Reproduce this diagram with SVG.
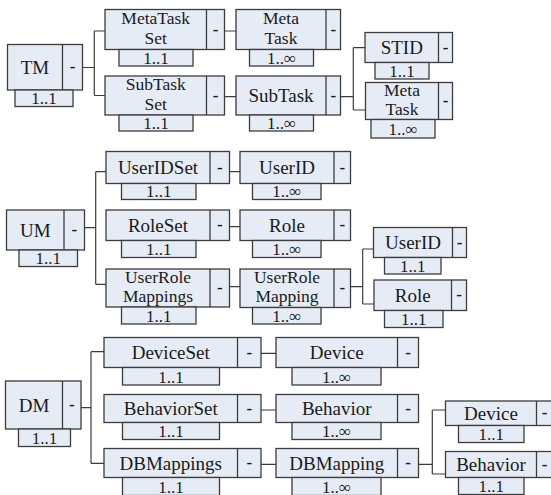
<svg xmlns="http://www.w3.org/2000/svg" width="551" height="495" viewBox="0 0 551 495">
<style>
.b{fill:#e6ecf6;stroke:#3c3c3c;stroke-width:1.3}
.d{stroke:#3c3c3c;stroke-width:1.3}
.c{fill:none;stroke:#3c3c3c;stroke-width:1.2}
.t{font-size:19px;text-anchor:middle;fill:#1a1a1a}
.t2{font-size:17.5px;text-anchor:middle;fill:#1a1a1a}
.n{font-size:17px;text-anchor:middle;fill:#1a1a1a}
.x{font-size:17px;font-weight:bold;text-anchor:middle;fill:#1a1a1a}
</style>
<rect width="551" height="495" fill="#ffffff"/>
<g id="connectors">
<path class="c" d="M82.5 67.5H94.3M94.3 31V95.5M94.3 31H105M94.3 95.5H105"/>
<path class="c" d="M224.5 31H236M224.5 96.7H236"/>
<path class="c" d="M340.5 96.7H353.3M353.3 47.7V110M353.3 47.7H365M353.3 110H365.5"/>
<path class="c" d="M84.5 227.7H95.7M95.7 171.7V284.3M95.7 171.7H106M95.7 284.3H106"/>
<path class="c" d="M229.5 171.7H240M229.5 226.7H240M229.5 286.7H240"/>
<path class="c" d="M350.5 286.7H362.7M362.7 249V304M362.7 249H373.5M362.7 304H374"/>
<path class="c" d="M81 407.7H91M91 351.7V463.3M91 351.7H104M91 463.3H104"/>
<path class="c" d="M261 353.3H276M261 410H276M261 464.3H276"/>
<path class="c" d="M418.5 464.3H432.3M432.3 410V474M432.3 410H445.5M432.3 474H445.5"/>
</g>
<g font-family="'Liberation Serif', 'Times New Roman', Times, serif">
<g id="TM">
<rect class="b" x="7.5" y="44.5" width="75" height="45.5"/><line class="d" x1="62.5" y1="44.5" x2="62.5" y2="90"/>
<rect class="b" x="15" y="90" width="58" height="16.5"/>
<text class="t" x="35" y="73.8">TM</text><text class="x" x="72.5" y="72">-</text><text class="n" x="44" y="104">1..1</text>
</g>
<g id="MetaTaskSet">
<rect class="b" x="105" y="9.5" width="119.5" height="40"/><line class="d" x1="206.5" y1="9.5" x2="206.5" y2="49.5"/>
<rect class="b" x="119" y="49.5" width="74" height="16.5"/>
<text class="t2" x="155.75" y="24.2">MetaTask<tspan x="155.75" dy="19.4">Set</tspan></text><text class="x" x="215.5" y="34.5">-</text><text class="n" x="156" y="63.5">1..1</text>
</g>
<g id="SubTaskSet">
<rect class="b" x="105" y="76" width="119.5" height="39"/><line class="d" x1="206.5" y1="76" x2="206.5" y2="115"/>
<rect class="b" x="119" y="115" width="74" height="16"/>
<text class="t2" x="155.75" y="90.2">SubTask<tspan x="155.75" dy="19.4">Set</tspan></text><text class="x" x="215.5" y="100.5">-</text><text class="n" x="156" y="129">1..1</text>
</g>
<g id="MetaTask">
<rect class="b" x="236" y="9.5" width="104.5" height="40"/><line class="d" x1="326" y1="9.5" x2="326" y2="49.5"/>
<rect class="b" x="249.5" y="49.5" width="64" height="16.5"/>
<text class="t2" x="281" y="24.2">Meta<tspan x="281" dy="19.4">Task</tspan></text><text class="x" x="333.25" y="34.5">-</text><text class="n" x="281.5" y="63.5">1..∞</text>
</g>
<g id="SubTask">
<rect class="b" x="236" y="76" width="104.5" height="39"/><line class="d" x1="326" y1="76" x2="326" y2="115"/>
<rect class="b" x="249.5" y="115" width="64" height="16"/>
<text class="t" x="281" y="102">SubTask</text><text class="x" x="333.25" y="100.5">-</text><text class="n" x="281.5" y="129">1..∞</text>
</g>
<g id="STID">
<rect class="b" x="365" y="32.5" width="87.5" height="30"/><line class="d" x1="438.5" y1="32.5" x2="438.5" y2="62.5"/>
<rect class="b" x="375" y="62.5" width="54" height="16.5"/>
<text class="t" x="401.75" y="54">STID</text><text class="x" x="445.5" y="52.5">-</text><text class="n" x="402" y="76.5">1..1</text>
</g>
<g id="MetaTask2">
<rect class="b" x="365.5" y="82.5" width="87" height="37"/><line class="d" x1="438.5" y1="82.5" x2="438.5" y2="119.5"/>
<rect class="b" x="371" y="119.5" width="64" height="18.5"/>
<text class="t2" x="402" y="95.6">Meta<tspan x="402" dy="19.4">Task</tspan></text><text class="x" x="445.5" y="106">-</text><text class="n" x="403" y="134.5">1..∞</text>
</g>
<g id="UM">
<rect class="b" x="6.5" y="210" width="78" height="40"/><line class="d" x1="64" y1="210" x2="64" y2="250"/>
<rect class="b" x="19" y="250" width="58.5" height="16.5"/>
<text class="t" x="35.25" y="236.5">UM</text><text class="x" x="74.25" y="235">-</text><text class="n" x="48.25" y="264">1..1</text>
</g>
<g id="UserIDSet">
<rect class="b" x="106" y="151.5" width="123.5" height="32"/><line class="d" x1="210" y1="151.5" x2="210" y2="183.5"/>
<rect class="b" x="121.5" y="183.5" width="74.5" height="16"/>
<text class="t" x="158" y="174">UserIDSet</text><text class="x" x="219.75" y="172.5">-</text><text class="n" x="158.75" y="197">1..1</text>
</g>
<g id="RoleSet">
<rect class="b" x="106" y="210" width="123.5" height="30.5"/><line class="d" x1="210" y1="210" x2="210" y2="240.5"/>
<rect class="b" x="121.5" y="240.5" width="74.5" height="17"/>
<text class="t" x="158" y="231.75">RoleSet</text><text class="x" x="219.75" y="230">-</text><text class="n" x="158.75" y="255">1..1</text>
</g>
<g id="UserRoleMappings">
<rect class="b" x="106" y="269" width="123.5" height="38"/><line class="d" x1="210" y1="269" x2="210" y2="307"/>
<rect class="b" x="121.5" y="307" width="74.5" height="17"/>
<text class="t2" x="158" y="282.7">UserRole<tspan x="158" dy="19.4">Mappings</tspan></text><text class="x" x="219.75" y="293">-</text><text class="n" x="158.75" y="321.5">1..1</text>
</g>
<g id="UserID">
<rect class="b" x="240" y="151.5" width="110.5" height="32"/><line class="d" x1="334" y1="151.5" x2="334" y2="183.5"/>
<rect class="b" x="252.5" y="183.5" width="68.5" height="16"/>
<text class="t" x="287" y="174">UserID</text><text class="x" x="342.25" y="172.5">-</text><text class="n" x="286.75" y="197">1..∞</text>
</g>
<g id="Role">
<rect class="b" x="240" y="210" width="110.5" height="30.5"/><line class="d" x1="334" y1="210" x2="334" y2="240.5"/>
<rect class="b" x="252.5" y="240.5" width="68.5" height="17"/>
<text class="t" x="287" y="231.75">Role</text><text class="x" x="342.25" y="230">-</text><text class="n" x="286.75" y="255">1..∞</text>
</g>
<g id="UserRoleMapping">
<rect class="b" x="240" y="269" width="110.5" height="38.5"/><line class="d" x1="334" y1="269" x2="334" y2="307.5"/>
<rect class="b" x="252.5" y="307.5" width="68.5" height="16.5"/>
<text class="t2" x="287" y="282.7">UserRole<tspan x="287" dy="19.4">Mapping</tspan></text><text class="x" x="342.25" y="293">-</text><text class="n" x="286.75" y="321.5">1..∞</text>
</g>
<g id="UserID2">
<rect class="b" x="373.5" y="227.5" width="93" height="30"/><line class="d" x1="452.5" y1="227.5" x2="452.5" y2="257.5"/>
<rect class="b" x="384.5" y="257.5" width="56.5" height="16.5"/>
<text class="t" x="413" y="249">UserID</text><text class="x" x="459.5" y="247.5">-</text><text class="n" x="412.75" y="271.5">1..1</text>
</g>
<g id="Role2">
<rect class="b" x="374" y="280" width="92.5" height="30.5"/><line class="d" x1="451.5" y1="280" x2="451.5" y2="310.5"/>
<rect class="b" x="384.5" y="310.5" width="58.5" height="17"/>
<text class="t" x="412.75" y="301.75">Role</text><text class="x" x="459" y="300">-</text><text class="n" x="413.75" y="325">1..1</text>
</g>
<g id="DM">
<rect class="b" x="5.5" y="381" width="75.5" height="48"/><line class="d" x1="62.5" y1="381" x2="62.5" y2="429"/>
<rect class="b" x="18.5" y="429" width="52" height="17.5"/>
<text class="t" x="34" y="411.5">DM</text><text class="x" x="71.75" y="410">-</text><text class="n" x="44.5" y="444">1..1</text>
</g>
<g id="DeviceSet">
<rect class="b" x="104" y="337.5" width="157" height="30"/><line class="d" x1="237.5" y1="337.5" x2="237.5" y2="367.5"/>
<rect class="b" x="122.5" y="367.5" width="97" height="17.5"/>
<text class="t" x="170.75" y="359">DeviceSet</text><text class="x" x="249.25" y="357.5">-</text><text class="n" x="171" y="382.5">1..1</text>
</g>
<g id="BehaviorSet">
<rect class="b" x="104" y="394.5" width="157" height="28"/><line class="d" x1="237.5" y1="394.5" x2="237.5" y2="422.5"/>
<rect class="b" x="122.5" y="422.5" width="97" height="17"/>
<text class="t" x="170.75" y="415">BehaviorSet</text><text class="x" x="249.25" y="413.5">-</text><text class="n" x="171" y="437">1..1</text>
</g>
<g id="DBMappings">
<rect class="b" x="104" y="448.5" width="157" height="29"/><line class="d" x1="237.5" y1="448.5" x2="237.5" y2="477.5"/>
<rect class="b" x="122.5" y="477.5" width="97" height="18"/>
<text class="t" x="170.75" y="469.5">DBMappings</text><text class="x" x="249.25" y="468">-</text><text class="n" x="171" y="492.5">1..1</text>
</g>
<g id="Device">
<rect class="b" x="276" y="337.5" width="142.5" height="30"/><line class="d" x1="397.5" y1="337.5" x2="397.5" y2="367.5"/>
<rect class="b" x="292" y="367.5" width="89" height="17.5"/>
<text class="t" x="336.75" y="359">Device</text><text class="x" x="408" y="357.5">-</text><text class="n" x="336.5" y="382.5">1..∞</text>
</g>
<g id="Behavior">
<rect class="b" x="276" y="394.5" width="142.5" height="28"/><line class="d" x1="397.5" y1="394.5" x2="397.5" y2="422.5"/>
<rect class="b" x="292" y="422.5" width="89" height="17"/>
<text class="t" x="336.75" y="415">Behavior</text><text class="x" x="408" y="413.5">-</text><text class="n" x="336.5" y="437">1..∞</text>
</g>
<g id="DBMapping">
<rect class="b" x="276" y="448.5" width="142.5" height="29"/><line class="d" x1="397.5" y1="448.5" x2="397.5" y2="477.5"/>
<rect class="b" x="292" y="477.5" width="89" height="18"/>
<text class="t" x="336.75" y="469.5">DBMapping</text><text class="x" x="408" y="468">-</text><text class="n" x="336.5" y="492.5">1..∞</text>
</g>
<g id="Device2">
<rect class="b" x="445.5" y="401" width="107.5" height="24.5"/><line class="d" x1="536.5" y1="401" x2="536.5" y2="425.5"/>
<rect class="b" x="458.5" y="425.5" width="65.5" height="17"/>
<text class="t" x="491" y="419.5">Device</text><text class="x" x="544.5" y="418">-</text><text class="n" x="491.25" y="440">1..1</text>
</g>
<g id="Behavior2">
<rect class="b" x="445.5" y="451.5" width="107.5" height="26"/><line class="d" x1="536.5" y1="451.5" x2="536.5" y2="477.5"/>
<rect class="b" x="458.5" y="477.5" width="65.5" height="17"/>
<text class="t" x="491" y="471">Behavior</text><text class="x" x="544.5" y="469.5">-</text><text class="n" x="491.25" y="492">1..1</text>
</g>
</g>
</svg>
